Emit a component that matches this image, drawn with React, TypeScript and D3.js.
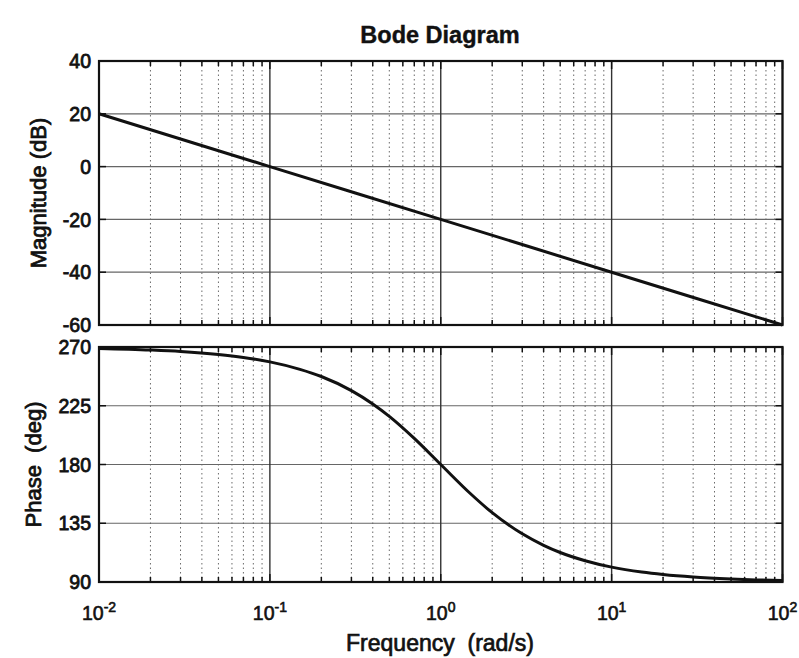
import { useEffect, useRef } from "react";
import * as d3 from "d3";

// frequency decades and their exponents (tick labels)
const decadeTicks = [0.01, 0.1, 1, 10, 100];
const decadeExps = ["-2", "-1", "0", "1", "2"];

// magnitude panel
const magTicks = [40, 20, 0, -20, -40, -60];
const magFreq = [0.01, 0.1, 1, 10, 100];
const magDb = [20, 0, -20, -40, -60];

// phase panel
const phaseTicks = [270, 225, 180, 135, 90];
const phaseFreq = [0.01, 0.02, 0.03, 0.05, 0.07, 0.1, 0.15, 0.2, 0.3, 0.4, 0.5, 0.7, 1, 1.5, 2, 3, 4, 5, 7, 10, 15, 20, 30, 50, 70, 100];
const phaseDeg = [268.9, 267.7, 266.6, 264.3, 262.0, 258.6, 252.9, 247.4, 236.6, 226.4, 216.9, 200.0, 180, 157.4, 143.1, 126.9, 118.1, 112.6, 106.3, 101.4, 97.6, 95.7, 93.8, 92.3, 91.6, 91.1];

const W = 799;
const H = 658;
const left = 99;
const right = 782.5;
const font = "'Liberation Sans', Arial, sans-serif";

const App = () => {
    const ref = useRef<SVGSVGElement>(null);

    useEffect(() => {
        const svg = d3.select(ref.current);
        svg.selectAll("*").remove();

        const x = d3.scaleLog().domain([0.01, 100]).range([left, right]);
        const isDecade = (t: number) => decadeTicks.some((d) => Math.abs(d - t) / d < 1e-6);
        const minor = x.ticks().filter((t) => !isDecade(t));

        const panels = [
            { y: d3.scaleLinear().domain([-60, 40]).range([325, 61]), ticks: magTicks, fx: magFreq, fy: magDb, label: "Magnitude (dB)", lx: 40 },
            { y: d3.scaleLinear().domain([90, 270]).range([582, 347]), ticks: phaseTicks, fx: phaseFreq, fy: phaseDeg, label: "Phase  (deg)", lx: 35 },
        ];

        panels.forEach((p) => {
            const [y1, y0] = p.y.range();
            const g = svg.append("g");

            // minor vertical grid (dotted)
            g.selectAll(".minor").data(minor).join("line")
                .attr("x1", (d) => x(d)).attr("x2", (d) => x(d))
                .attr("y1", y0).attr("y2", y1)
                .attr("stroke", "#6a6a6a").attr("stroke-width", 1)
                .attr("stroke-dasharray", "1.5,3");

            // horizontal grid
            g.selectAll(".hgrid").data(p.ticks).join("line")
                .attr("x1", left).attr("x2", right)
                .attr("y1", (d) => p.y(d)).attr("y2", (d) => p.y(d))
                .attr("stroke", "#666").attr("stroke-width", 1.2);

            // decade vertical grid
            g.selectAll(".major").data(decadeTicks).join("line")
                .attr("x1", (d) => x(d)).attr("x2", (d) => x(d))
                .attr("y1", y0).attr("y2", y1)
                .attr("stroke", "#333").attr("stroke-width", 1.4);

            // ticks on top / bottom edges
            [y0, y1].forEach((edge, k) => {
                const dir = k === 0 ? 1 : -1;
                g.selectAll(".tk" + k).data(x.ticks()).join("line")
                    .attr("x1", (d) => x(d)).attr("x2", (d) => x(d))
                    .attr("y1", edge)
                    .attr("y2", (d) => edge + dir * (isDecade(d) ? 8 : 5))
                    .attr("stroke", "#111").attr("stroke-width", 1.5);
            });
            // ticks on left / right edges
            [left, right].forEach((edge, k) => {
                const dir = k === 0 ? 1 : -1;
                g.selectAll(".ty" + k).data(p.ticks).join("line")
                    .attr("x1", edge).attr("x2", edge + dir * 7)
                    .attr("y1", (d) => p.y(d)).attr("y2", (d) => p.y(d))
                    .attr("stroke", "#111").attr("stroke-width", 1.5);
            });

            // curve
            const line = d3.line<number>()
                .x((d) => x(p.fx[d]))
                .y((d) => p.y(p.fy[d]))
                .curve(d3.curveMonotoneX);
            g.append("path")
                .attr("d", line(d3.range(p.fx.length)))
                .attr("fill", "none").attr("stroke", "#111").attr("stroke-width", 3);

            // frame
            g.append("rect")
                .attr("x", left).attr("y", y0)
                .attr("width", right - left).attr("height", y1 - y0)
                .attr("fill", "none").attr("stroke", "#111").attr("stroke-width", 2.2);

            // y tick labels
            g.selectAll(".yl").data(p.ticks).join("text")
                .attr("x", 91).attr("y", (d) => p.y(d) + 2)
                .attr("text-anchor", "end").attr("dominant-baseline", "middle")
                .attr("font-family", font).attr("font-size", 19.5)
                .attr("stroke", "#111").attr("stroke-width", 0.8)
                .attr("fill", "#111").text((d) => String(d));

            // y label
            g.append("text")
                .attr("transform", `translate(${p.lx},${(y0 + y1) / 2}) rotate(-90)`)
                .attr("text-anchor", "middle").attr("dominant-baseline", "middle")
                .attr("font-family", font).attr("font-size", 22)
                .attr("stroke", "#111").attr("stroke-width", 0.8)
                .attr("fill", "#111").style("white-space", "pre").text(p.label);
        });

        // x tick labels
        const xl = svg.selectAll(".xl").data(decadeTicks).join("text")
            .attr("x", (d) => x(d)).attr("y", 620)
            .attr("text-anchor", "middle")
            .attr("font-family", font).attr("font-size", 19.5)
            .attr("stroke", "#111").attr("stroke-width", 0.6)
            .attr("fill", "#111");
        xl.append("tspan").text("10");
        xl.append("tspan").attr("dy", -8).attr("font-size", 14).text((d, i) => decadeExps[i]);

        svg.append("text")
            .attr("x", 440).attr("y", 651)
            .attr("text-anchor", "middle")
            .attr("font-family", font).attr("font-size", 23)
            .attr("stroke", "#111").attr("stroke-width", 0.7)
            .attr("fill", "#111").style("white-space", "pre")
            .text("Frequency  (rad/s)");

        svg.append("text")
            .attr("x", 440).attr("y", 43)
            .attr("text-anchor", "middle")
            .attr("font-family", font).attr("font-size", 23.5).attr("font-weight", "bold")
            .attr("stroke", "#111").attr("stroke-width", 0.4)
            .attr("fill", "#111")
            .text("Bode Diagram");
    }, []);

    return (
        <svg
            ref={ref}
            width={W}
            height={H}
            viewBox={`0 0 ${W} ${H}`}
            style={{ position: "absolute", left: 0, top: 0, background: "#fff" }}
        />
    );
};

export default App;
